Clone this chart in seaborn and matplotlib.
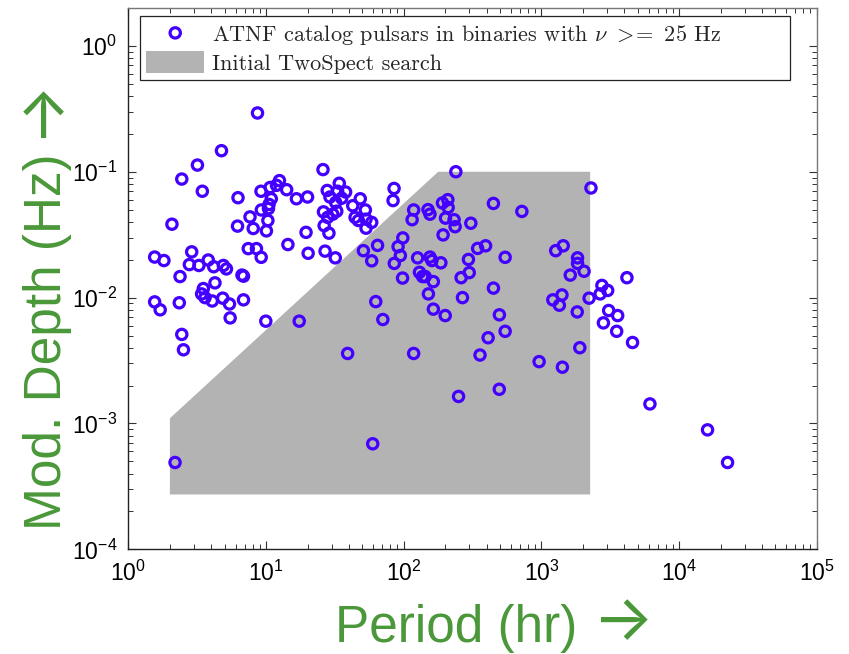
import matplotlib
matplotlib.use("Agg")
import matplotlib.pyplot as plt
from matplotlib.font_manager import FontProperties
from matplotlib.ticker import LogLocator, NullFormatter
import seaborn as sns
import pandas as pd
import numpy as np

# ---------------- data ----------------
period_hr = [1.55, 1.81, 2.07, 2.37, 1.55, 1.70, 2.34, 2.44, 2.51, 2.18,
             2.44, 3.17, 3.44, 4.74, 2.88, 2.77, 3.25, 3.80, 4.16, 4.89,
             5.15, 4.25, 3.50, 3.40, 3.60, 4.06, 4.84, 5.42, 5.48, 6.68,
             6.85, 6.85, 8.66, 6.25, 9.18, 10.7, 12.5, 11.9, 14.1, 16.6,
             10.9, 10.5, 10.4, 9.23, 7.64, 10.3, 6.20, 8.06, 10.05, 14.4,
             7.42, 8.51, 9.21, 9.95, 17.4, 19.5, 20.2, 20.0,
             25.9, 85, 83.6, 34.0, 27.8, 33.1, 37.8, 29.1, 35.4, 32.0,
             48.3, 42.6, 26.1, 52.6, 28.0, 30.5, 32.6, 44.3, 46.8, 53.2,
             58.5, 53.2, 26.4, 28.6, 26.8, 31.8, 50.9, 64.5, 58.5, 90.9,
             94.5, 85.3, 98.4, 126, 118, 115, 130, 137, 98, 62.6,
             70.5, 39.1, 118, 59.5, 239, 150, 155, 191, 209, 210,
             201, 232, 236, 193, 307, 155, 160, 186, 143, 164,
             151, 164, 200, 250, 261, 299, 295, 267,
             448, 721, 2290, 344, 393, 545, 448, 495, 545, 410,
             358, 962, 1420, 1900, 494, 1270, 1440, 1830, 1830, 2040,
             1620, 1210, 1410, 1350, 2220, 1820, 2750, 2670, 3030, 4180,
             3080, 3580, 2820, 3520, 4590, 6140, 16100, 22500]

mod_depth_hz = [0.021, 0.0197, 0.0383, 0.0147, 0.00925, 0.0080, 0.0091, 0.0051, 0.00385, 0.00049,
                0.0875, 0.113, 0.070, 0.147, 0.0231, 0.0183, 0.0180, 0.0199, 0.0176, 0.0180,
                0.0169, 0.0131, 0.0118, 0.0107, 0.0100, 0.0094, 0.0099, 0.0089, 0.0069, 0.0151,
                0.0148, 0.0096, 0.293, 0.0622, 0.070, 0.075, 0.085, 0.078, 0.072, 0.061,
                0.061, 0.055, 0.051, 0.0497, 0.0438, 0.041, 0.037, 0.0354, 0.0339, 0.0264,
                0.0245, 0.0245, 0.0209, 0.0065, 0.0065, 0.033, 0.0225, 0.063,
                0.104, 0.0737, 0.059, 0.081, 0.071, 0.070, 0.069, 0.063, 0.0616, 0.057,
                0.061, 0.0537, 0.048, 0.0497, 0.0434, 0.046, 0.0486, 0.0434, 0.041, 0.042,
                0.0396, 0.0356, 0.0373, 0.0325, 0.0234, 0.0207, 0.0236, 0.026, 0.0196, 0.0254,
                0.0216, 0.0187, 0.0298, 0.0207, 0.0497, 0.0416, 0.0159, 0.0147, 0.0143, 0.0093,
                0.0067, 0.0036, 0.0036, 0.00069, 0.100, 0.050, 0.046, 0.0565, 0.060, 0.052,
                0.0428, 0.0416, 0.0366, 0.0315, 0.039, 0.021, 0.0197, 0.0189, 0.0147, 0.0134,
                0.0107, 0.0081, 0.0072, 0.00164, 0.0144, 0.0158, 0.0201, 0.0100,
                0.056, 0.0484, 0.0743, 0.0246, 0.0258, 0.0209, 0.0119, 0.0073, 0.0054, 0.0048,
                0.0035, 0.0031, 0.0028, 0.0040, 0.00187, 0.0236, 0.0258, 0.0207, 0.0187, 0.0162,
                0.0151, 0.0096, 0.0105, 0.0087, 0.0099, 0.0077, 0.0125, 0.0107, 0.0114, 0.0144,
                0.0079, 0.0072, 0.0063, 0.0054, 0.0044, 0.00143, 0.00089, 0.00049]

# TwoSpect search region outline (period in hr, modulation depth in Hz)
search_period = [2, 2, 178, 2260, 2260]
search_depth = [2.73e-4, 1.1e-3, 0.1, 0.1, 2.73e-4]

pulsar_label = r"ATNF catalog pulsars in binaries with $\nu$ $>\!\!=$ 25 Hz"
search_label = "Initial TwoSpect search"
xlabel_text = "Period (hr)"
ylabel_text = "Mod. Depth (Hz)"
xarrow = "\u2192"
yarrow = "\u2192"

# ---------------- style ----------------
sns.set_theme(style="white")
plt.rcParams["font.family"] = ["Liberation Sans", "DejaVu Sans"]
plt.rcParams["xtick.direction"] = "in"
plt.rcParams["ytick.direction"] = "in"

marker_color = "#4400ff"
green = "#4a983a"
gray = "#b3b3b3"

df = pd.DataFrame({"period": period_hr, "depth": mod_depth_hz})

fig = plt.figure(figsize=(8.49, 6.54), dpi=100)
ax = fig.add_axes([0.1513, 0.160, 0.8107, 0.8278])

ax.fill(search_period, search_depth, color=gray, lw=0, zorder=1, label=search_label)

sns.scatterplot(data=df, x="period", y="depth", ax=ax, marker="o", s=55,
                facecolor="none", edgecolor=marker_color, linewidth=2.3,
                zorder=3, label=pulsar_label)

ax.set_xscale("log")
ax.set_yscale("log")
ax.set_xlim(1, 1e5)
ax.set_ylim(1e-4, 2)
ax.set_xlabel("")
ax.set_ylabel("")

ax.xaxis.set_major_locator(LogLocator(base=10, numticks=10))
ax.yaxis.set_major_locator(LogLocator(base=10, numticks=10))
ax.xaxis.set_minor_locator(LogLocator(base=10, subs=np.arange(2, 10), numticks=100))
ax.yaxis.set_minor_locator(LogLocator(base=10, subs=np.arange(2, 10), numticks=100))
ax.xaxis.set_minor_formatter(NullFormatter())
ax.yaxis.set_minor_formatter(NullFormatter())
ax.tick_params(which="major", length=6, width=0.8, color="#333333",
               bottom=True, left=True, top=True, right=True,
               labelsize=16.5, pad=8, labelcolor="black")
ax.tick_params(which="minor", length=3.5, width=0.7, color="#333333",
               bottom=True, left=True, top=True, right=True)

for side in ["left", "bottom"]:
    ax.spines[side].set_color("#222222")
    ax.spines[side].set_linewidth(1.0)
for side in ["top", "right"]:
    ax.spines[side].set_color("#777777")
    ax.spines[side].set_linewidth(1.0)

# legend
handles, labels = ax.get_legend_handles_labels()
order = [labels.index(pulsar_label), labels.index(search_label)]
leg_font = FontProperties(family="cmr10", size=16, math_fontfamily="cm")
leg = ax.legend([handles[i] for i in order], [labels[i] for i in order],
                loc="upper left", bbox_to_anchor=(0.0163, 0.9852, 0.9447, 0.0),
                mode="expand", prop=leg_font, frameon=True, fancybox=False,
                edgecolor="#222222", framealpha=1, borderpad=0.3,
                handlelength=2.6, handleheight=1.1, handletextpad=0.35,
                labelspacing=0.2, borderaxespad=0)
leg.get_frame().set_linewidth(0.9)

# axis labels (text + arrow glyph)
arrow_font = ["Inter", "DejaVu Sans"]
fig.text(335 / 849, 1 - 642 / 654, xlabel_text, color=green, fontsize=37,
         ha="left", va="baseline")
fig.text(623 / 849, 1 - 624 / 654, xarrow, color=green, fontsize=46,
         fontfamily=arrow_font, ha="center", va="center")
fig.text(61 / 849, 1 - 530 / 654, ylabel_text, color=green, fontsize=37,
         ha="left", va="baseline", rotation=90, rotation_mode="anchor")
fig.text(41 / 849, 1 - 107 / 654, yarrow, color=green, fontsize=46,
         fontfamily=arrow_font, ha="center", va="center",
         rotation=90, rotation_mode="anchor")

fig.savefig("out.png", dpi=100)
